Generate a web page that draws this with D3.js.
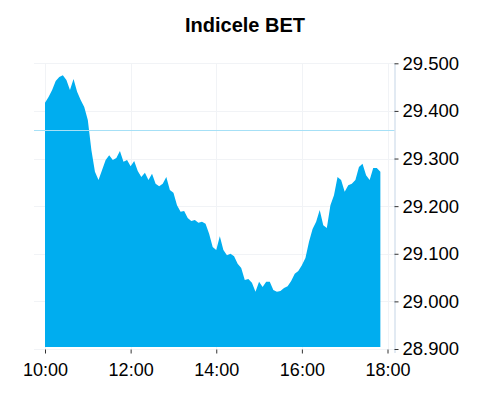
<!DOCTYPE html>
<html>
<head>
<meta charset="utf-8">
<script src="https://cdn.jsdelivr.net/npm/d3@7"></script>
<style>
	body { margin: 0; background: #fff; }
	#viz { width: 492px; height: 400px; }
	text { font-family: Arial, "Liberation Sans", sans-serif; }
</style>
</head>
<body>
<div id="viz"></div>
<script>
"use strict";

// BET index, intraday, one value every 5 minutes from 10:00
var startTime = "10:00"
var stepMinutes = 5
var betValues = [
	29.417, 29.429, 29.444, 29.463, 29.471, 29.475, 29.465, 29.444, 29.467, 29.440,
	29.423, 29.408, 29.381, 29.318, 29.272, 29.255, 29.276, 29.297, 29.307, 29.297,
	29.301, 29.316, 29.293, 29.297, 29.284, 29.295, 29.274, 29.261, 29.270, 29.255,
	29.268, 29.247, 29.242, 29.247, 29.261, 29.234, 29.228, 29.202, 29.188, 29.190,
	29.175, 29.169, 29.171, 29.165, 29.167, 29.163, 29.142, 29.114, 29.108, 29.137,
	29.108, 29.097, 29.100, 29.095, 29.079, 29.070, 29.045, 29.047, 29.039, 29.020,
	29.041, 29.030, 29.041, 29.041, 29.024, 29.020, 29.022, 29.028, 29.032, 29.043,
	29.058, 29.064, 29.076, 29.091, 29.125, 29.152, 29.167, 29.192, 29.160, 29.154,
	29.202, 29.223, 29.261, 29.255, 29.230, 29.244, 29.247, 29.255, 29.282, 29.289,
	29.265, 29.255, 29.280, 29.280, 29.272
]
var previousClose = 29.360
var xTickLabels = ["10:00", "12:00", "14:00", "16:00", "18:00"]
var yTickValues = [28.9, 29.0, 29.1, 29.2, 29.3, 29.4, 29.5]
var chartTitle = "Indicele BET"

var parseTime = d3.timeParse("%H:%M")
var formatTime = d3.timeFormat("%H:%M")
var t0 = parseTime(startTime)

var points = betValues.map(function(v, i) {
	return { time: d3.timeMinute.offset(t0, i * stepMinutes), value: v }
})

var width = 492,
	height = 400,
	gridLeft = 34,
	axisX = 394.5

var x = d3.scaleTime()
	.domain([parseTime(xTickLabels[0]), parseTime(xTickLabels[xTickLabels.length - 1])])
	.range([45, 387.5])

var y = d3.scaleLinear()
	.domain([28.9, 29.5])
	.range([349, 63.3])

var svg = d3.select("#viz")
	.append("svg")
	.attr("width", width)
	.attr("height", height)

svg.append("text")
	.attr("x", 245)
	.attr("y", 32)
	.attr("text-anchor", "middle")
	.attr("font-size", "20px")
	.attr("font-weight", "bold")
	.attr("fill", "#000")
	.text(chartTitle)

// grid
var grid = svg.append("g").attr("class", "grid")

grid.selectAll("line.h")
	.data(yTickValues)
	.enter()
	.append("line")
	.attr("class", "h")
	.attr("x1", gridLeft)
	.attr("x2", axisX)
	.attr("y1", function(d) { return Math.round(y(d)) + 0.5 })
	.attr("y2", function(d) { return Math.round(y(d)) + 0.5 })
	.attr("stroke", "#f1f3f6")
	.attr("stroke-width", 1)

grid.selectAll("line.v")
	.data(xTickLabels)
	.enter()
	.append("line")
	.attr("class", "v")
	.attr("x1", function(d) { return Math.round(x(parseTime(d))) + 0.5 })
	.attr("x2", function(d) { return Math.round(x(parseTime(d))) + 0.5 })
	.attr("y1", y(29.5))
	.attr("y2", y(28.9))
	.attr("stroke", "#f1f3f6")
	.attr("stroke-width", 1)

var area = d3.area()
	.x(function(d) { return x(d.time) })
	.y0(y(28.9) - 2)
	.y1(function(d) { return y(d.value) })

svg.append("path")
	.datum(points)
	.attr("d", area)
	.attr("fill", "#00adef")

// previous close
svg.append("line")
	.attr("x1", gridLeft)
	.attr("x2", axisX)
	.attr("y1", Math.round(y(previousClose)) + 0.5)
	.attr("y2", Math.round(y(previousClose)) + 0.5)
	.attr("stroke", "#a6e0f6")
	.attr("stroke-width", 1)

// x axis
var xAxis = d3.axisBottom(x)
	.tickValues(xTickLabels.map(parseTime))
	.tickFormat(formatTime)
	.tickSize(4)
	.tickPadding(10)

var gx = svg.append("g")
	.attr("transform", "translate(0," + (y(28.9) + 0.5) + ")")
	.call(xAxis)
gx.select(".domain").remove()
gx.selectAll(".tick line").attr("stroke", "#333")
gx.selectAll(".tick text")
	.attr("font-size", "18px")
	.attr("font-family", "Arial, 'Liberation Sans', sans-serif")
	.attr("fill", "#000")

// y axis on the right, "." as thousands separator like the original
var yAxis = d3.axisRight(y)
	.tickValues(yTickValues)
	.tickFormat(d3.format(".3f"))
	.tickSize(4)
	.tickPadding(4)

var gy = svg.append("g")
	.attr("transform", "translate(" + axisX + ",0)")
	.call(yAxis)
gy.select(".domain")
	.attr("stroke", "#c5d5e6")
	.attr("d", "M0.5," + y(29.5) + "V" + (y(28.9) + 4))
gy.selectAll(".tick line").attr("stroke", "#333")
gy.selectAll(".tick text")
	.attr("font-size", "18.5px")
	.attr("font-family", "Arial, 'Liberation Sans', sans-serif")
	.attr("fill", "#000")
</script>
</body>
</html>
